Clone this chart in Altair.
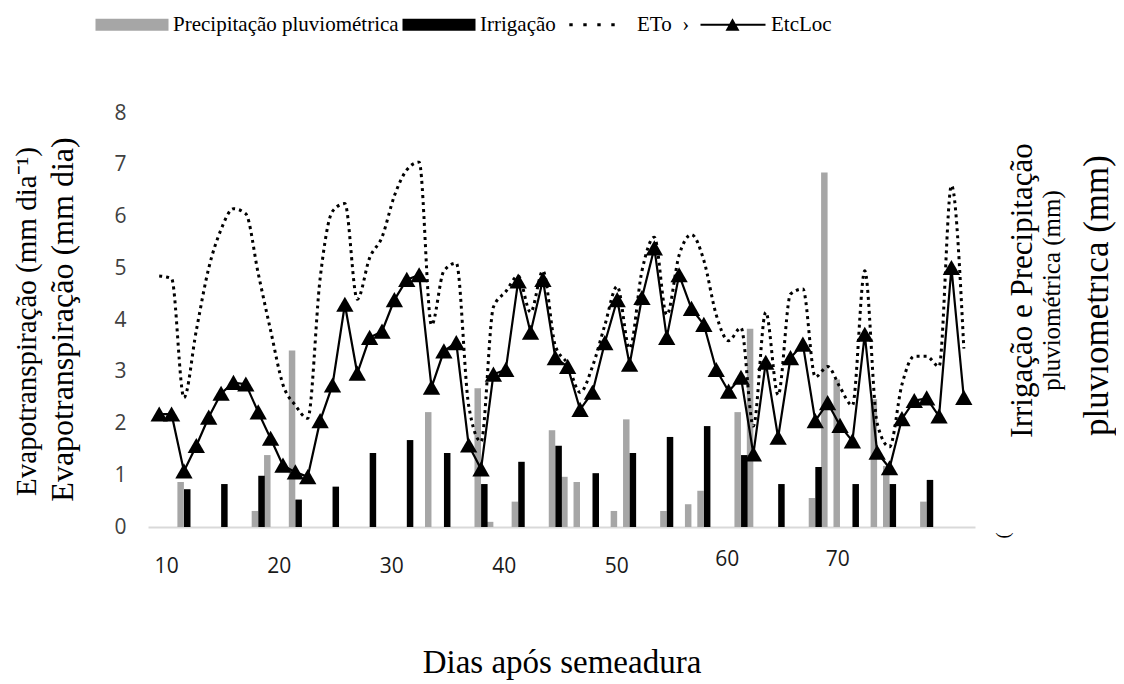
import json
import altair as alt
import pandas as pd

# ---------------- data ----------------
n_points = 66
eto = [4.85, 4.8, 2.5, 3.8, 5.0, 5.75, 6.15, 6.05, 4.9, 3.8,
       2.75, 2.35, 2.1, 4.8, 6.1, 6.25, 4.4, 5.2, 5.6, 6.4,
       6.9, 7.05, 3.9, 4.95, 5.1, 2.35, 1.65, 4.25, 4.55, 4.85,
       4.15, 4.95, 3.5, 3.15, 2.6, 3.1, 3.9, 4.65, 3.45, 4.95,
       5.6, 4.1, 5.25, 5.65, 5.15, 4.1, 3.6, 3.85, 1.95, 4.15,
       2.55, 4.5, 4.6, 2.9, 3.1, 2.7, 2.35, 4.95, 2.0, 1.55,
       2.75, 3.3, 3.3, 3.1, 6.6, 3.45]
etcloc = [2.18, 2.18, 1.08, 1.57, 2.12, 2.58, 2.79, 2.76, 2.22, 1.71,
          1.19, 1.06, 0.97, 2.05, 2.74, 4.30, 2.97, 3.66, 3.78, 4.39,
          4.78, 4.87, 2.70, 3.40, 3.56, 1.58, 1.12, 2.95, 3.04, 4.75,
          3.76, 4.78, 3.27, 3.10, 2.27, 2.60, 3.56, 4.39, 3.14, 4.43,
          5.39, 3.66, 4.87, 4.22, 3.91, 3.04, 2.62, 2.89, 1.41, 3.18,
          1.73, 3.27, 3.53, 2.05, 2.40, 1.96, 1.66, 3.72, 1.44, 1.14,
          2.09, 2.44, 2.49, 2.14, 5.01, 2.50]
precip_idx = [2, 8, 9, 11, 22, 26, 27, 29, 32, 33, 34, 37, 38, 41, 43, 44, 47, 48, 53, 54, 55, 58, 59, 62]
precip_val = [0.87, 0.31, 1.39, 3.41, 2.22, 2.68, 0.10, 0.49, 1.87, 0.97, 0.87, 0.31, 2.08, 0.31,
              0.44, 0.70, 2.22, 3.83, 0.56, 6.85, 2.85, 2.47, 1.18, 0.49]
irrig_idx = [2, 5, 8, 11, 14, 17, 20, 23, 26, 29, 32, 35, 38, 41, 44, 47, 50, 53, 56, 59, 62]
irrig_val = [0.73, 0.83, 0.99, 0.53, 0.78, 1.43, 1.68, 1.43, 0.83, 1.26, 1.57, 1.04, 1.43, 1.74,
             1.95, 1.39, 0.83, 1.16, 0.83, 0.83, 0.91]

tick_pos = [0.56, 9.65, 18.74, 27.83, 36.92, 45.85, 54.78]
tick_labels = ["10", "20", "30", "40", "50", "60", "70"]
series = ["Precipitação pluviométrica", "Irrigação", "ETo", "EtcLoc"]
series_colors = ["#a6a6a6", "#000000", "#000000", "#000000"]

# ---------------- tables ----------------
idx = list(range(n_points))
df_eto = pd.DataFrame({"i": idx, "v": eto, "serie": "ETo"})
df_etc = pd.DataFrame({"i": idx, "v": etcloc, "serie": "EtcLoc"})
df_pre = pd.DataFrame({"i": precip_idx, "v": precip_val})
df_irr = pd.DataFrame({"i": irrig_idx, "v": irrig_val})

SERIF = "Liberation Serif"
SANS = "Open Sans"
NB = "\u00a0"

# legend glyphs (unit = 10 px, symbol centre 36.5 px into each entry)
rect_path = "M-3.65,-0.6H3.65V0.6H-3.65Z"
dot_centers = [-2.5, -1.1, 0.3, 1.7]
dots_path = " ".join(f"M{c-0.17:.2f},-0.16h0.34v0.32h-0.34Z" for c in dot_centers)
line_tri_path = "M-2.95,-0.1H3.55V0.1H-2.95Z M0.25,-0.65L0.95,0.6L-0.45,0.6Z"
legend_shapes = [rect_path, rect_path, dots_path, line_tri_path]
marker_path = "M0,-0.9L1,0.85L-1,0.85Z"

pos_js = "[" + ",".join(str(p) for p in tick_pos) + "]"
label_expr = f"{json.dumps(tick_labels)}[indexof({pos_js}, datum.value)]"

legend_label_expr = f"datum.label == 'ETo' ? 'ETo{NB*2}\u203a' : datum.label"

X = alt.X(
    "i:Q",
    scale=alt.Scale(domain=[-0.5, n_points - 0.5], nice=False, zero=False),
    axis=alt.Axis(
        values=tick_pos, labelExpr=label_expr, grid=False, ticks=False,
        domain=True, domainColor="#d9d9d9", domainWidth=2,
        labelFont=SANS, labelFontSize=21, labelColor="#1a1a1a",
        labelPadding={"condition": {"test": "datum.value > 40", "value": 21}, "value": 28},
        title="Dias após semeadura", titleFont=SERIF, titleFontSize=33,
        titleFontWeight="normal", titleColor="black",
        titleX=413.5, titleY=135, titleAlign="center", titleBaseline="middle",
    ),
)

main_axis = alt.Axis(
    values=list(range(9)), grid=False, ticks=False, domain=False,
    labelFont=SANS, labelFontSize=21, labelColor="#404040", labelPadding=22,
    title="Evapotranspiração (mm dia)", titleFont=SERIF, titleFontSize=32,
    titleFontWeight="normal", titleColor="black", titleAngle=270,
    titleX=-86, titleY=206, titleAlign="center", titleBaseline="middle",
)
Y_MAIN = alt.Y("v:Q", scale=alt.Scale(domain=[0, 8], nice=False), axis=main_axis)

bars_axis = alt.Axis(
    orient="right", values=[0], labelExpr="'('", labelAngle=270,
    labelFont=SERIF, labelFontSize=18, labelColor="black", labelPadding=28, labelOffset=8,
    labelAlign="center", labelBaseline="middle",
    grid=False, ticks=False, domain=False,
    title="Irrigação e Precipitação", titleFont=SERIF,
    titleFontSize=31, titleFontWeight="normal", titleColor="black",
    titleAngle=270, titleX=47, titleY=177, titleAlign="center", titleBaseline="middle",
)
Y_BARS = alt.Y("v:Q", scale=alt.Scale(domain=[0, 8], nice=False), axis=bars_axis)


def title_only(text, orient, size, tx, ty):
    """An empty layer whose only job is to carry one extra axis title."""
    return alt.Chart(df_eto).transform_filter("false").mark_point(opacity=0).encode(
        x=X,
        y=alt.Y("v:Q", scale=alt.Scale(domain=[0, 8], nice=False), axis=alt.Axis(
            orient=orient, labels=False, ticks=False, domain=False, grid=False,
            title=text, titleFont=SERIF, titleFontSize=size,
            titleFontWeight="normal", titleColor="black", titleAngle=270,
            titleX=tx, titleY=ty, titleAlign="center", titleBaseline="middle")),
    )


# ---------------- layers ----------------
eto_line = alt.Chart(df_eto).mark_line(
    color="black", strokeDash=[3, 4], strokeWidth=3, interpolate="monotone"
).encode(x=X, y=Y_MAIN)

etc_line = alt.Chart(df_etc).mark_line(color="black", strokeWidth=2.2).encode(x=X, y=Y_MAIN)
etc_pts = alt.Chart(df_etc).mark_point(
    shape=marker_path, size=300, filled=True, color="black", opacity=1
).encode(x=X, y=Y_MAIN)

legend_layer = alt.Chart(df_eto).transform_filter("false").mark_point(filled=True, opacity=1).encode(
    x=X, y=Y_MAIN,
    color=alt.Color("serie:N", scale=alt.Scale(domain=series, range=series_colors),
                    legend=alt.Legend(
                        orient="none", legendX=-53, legendY=-99, direction="horizontal",
                        columns=4, title=None, symbolSize=400, symbolOffset=26.5,
                        labelOffset=30.5, columnPadding=3, padding=0, symbolStrokeWidth=0,
                        labelFont=SERIF, labelFontSize=21, labelColor="black", labelLimit=0,
                        labelExpr=legend_label_expr,
                    )),
    shape=alt.Shape("serie:N", scale=alt.Scale(domain=series, range=legend_shapes)),
)

main = alt.layer(eto_line, etc_line, etc_pts, legend_layer)

gray_bars = alt.Chart(df_pre).mark_bar(width=6.5, xOffset=-3.3, color="#a6a6a6").encode(x=X, y=Y_BARS)
black_bars = alt.Chart(df_irr).mark_bar(width=6.5, xOffset=3.3, color="#000000").encode(x=X, y=Y_BARS)
bars = alt.layer(gray_bars, black_bars)

t_left = title_only("Evapotranspiração (mm dia⁻¹)", "left", 29, -122, 208)
t_right2 = title_only("pluviométrica (mm)", "right", 25, 76, 177)
t_right3 = title_only("pluvıometrıca (mm)", "right", 35, 121, 182)

chart = alt.layer(bars, main, t_left, t_right2, t_right3).resolve_scale(y="independent").properties(
    width=827, height=414,
    autosize=alt.AutoSizeParams(type="none"),
    padding={"left": 140, "top": 105, "right": 141, "bottom": 157},
).configure_view(stroke=None)

chart.save("out.html", embed_options={"renderer": "svg", "actions": False})
